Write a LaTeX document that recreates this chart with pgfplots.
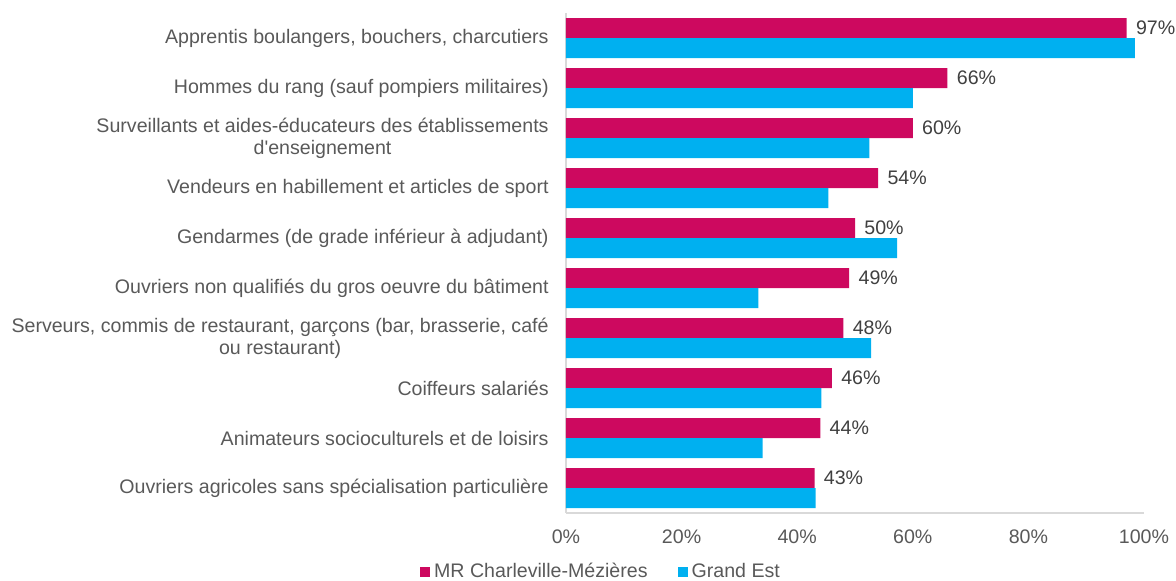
\documentclass[border=0pt]{standalone}
\usepackage{pgfplots}
\pgfplotsset{compat=1.18}
\usepackage{fontspec}
\setmainfont{Liberation Sans}
\definecolor{mrred}{RGB}{205,9,95}
\definecolor{geblue}{RGB}{0,176,240}
\definecolor{txt}{RGB}{89,89,89}
\definecolor{lbl}{RGB}{64,64,64}
\definecolor{axl}{RGB}{217,217,217}
\begin{document}
\begin{tikzpicture}
\path[use as bounding box] (-283pt,-33.5pt) rectangle (305pt,256.5pt);
\begin{axis}[
  at={(0,0)}, anchor=south west,
  scale only axis, width=289pt, height=250pt,
  xbar=0pt, bar width=10pt,
  xmin=0, xmax=100,
  ymin=-0.5, ymax=9.5, y dir=reverse,
  axis x line*=bottom, axis y line*=left,
  axis line style={draw=axl, line width=0.6pt},
  every outer x axis line/.append style={-}, every outer y axis line/.append style={-},
  major tick length=0pt,
  xtick={0,20,40,60,80,100},
  xticklabels={0\%,20\%,40\%,60\%,80\%,100\%},
  ytick={0,...,9},
  yticklabels={
    {Apprentis boulangers, bouchers, charcutiers},
    {Hommes du rang (sauf pompiers militaires)},
    {Surveillants et aides-éducateurs des établissements\\d\textquotesingle enseignement},
    {Vendeurs en habillement et articles de sport},
    {Gendarmes (de grade inférieur à adjudant)},
    {Ouvriers non qualifiés du gros oeuvre du bâtiment},
    {Serveurs, commis de restaurant, garçons (bar, brasserie, café\\ou restaurant)},
    {Coiffeurs salariés},
    {Animateurs socioculturels et de loisirs},
    {Ouvriers agricoles sans spécialisation particulière}},
  tick label style={font=\fontsize{9.8pt}{11pt}\selectfont, text=txt},
  xticklabel style={anchor=center, yshift=-12pt},
  yticklabel style={anchor=east, inner sep=0pt, xshift=-8.5pt, align=center},
  legend style={at={(0.0623,-0.118)}, anchor=center, draw=none, fill=none,
    font=\fontsize{9.8pt}{11pt}\selectfont, text=txt, inner sep=0pt,
    /tikz/every even column/.append style={column sep=13pt}},
  legend columns=2,
  legend cell align=left,
  legend image code/.code={\fill[#1] (0pt,-2.5pt) rectangle (5pt,2.5pt);},
]
\addplot[fill=mrred, draw=none, bar shift=5pt, point meta=x,
  nodes near coords={\pgfmathprintnumber[fixed,precision=0,assume math mode=true]{\pgfplotspointmeta}\%},
  nodes near coords style={font=\fontsize{9.8pt}{11pt}\selectfont, text=lbl, anchor=west, inner sep=0pt, xshift=4.5pt, yshift=0pt}]
  coordinates {(97,0) (66,1) (60,2) (54,3) (50,4) (49,5) (48,6) (46,7) (44,8) (43,9)};
\addplot[fill=geblue, draw=none, bar shift=-5pt]
  coordinates {(98.4,0) (60.0,1) (52.5,2) (45.4,3) (57.3,4) (33.3,5) (52.8,6) (44.2,7) (34.0,8) (43.2,9)};
\legend{MR Charleville-Mézières, Grand Est}
\end{axis}
\end{tikzpicture}
\end{document}
